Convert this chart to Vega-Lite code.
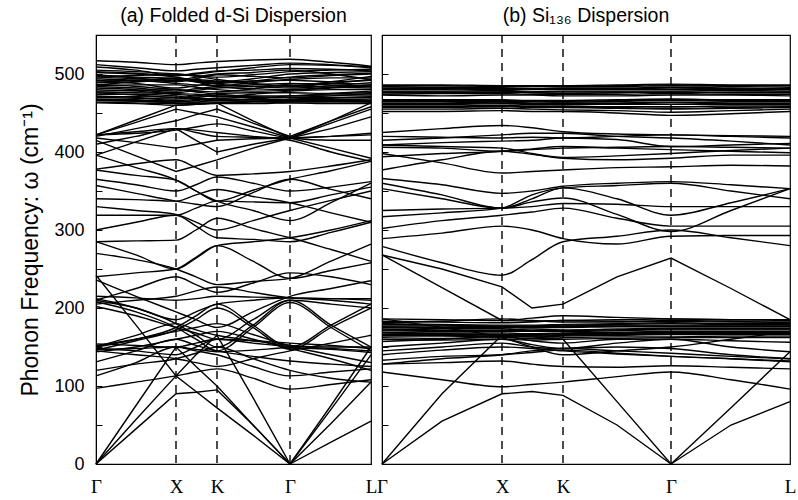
{
"$schema": "https://vega.github.io/schema/vega-lite/v6.json",
"background": "white",
"padding": {"left": 19, "top": 5, "right": 2, "bottom": 2},
"bounds": "flush",
"spacing": 11,
"config": {"view": {"stroke": "black", "strokeWidth": 1.2}, "font": "Liberation Sans", "title": {"fontSize": 19.5, "fontWeight": "normal", "color": "black", "font": "Liberation Sans", "offset": 8}},
"datasets": {
"a": [
{"b":1,"x":0,"y":517},{"b":1,"x":40,"y":515},{"b":1,"x":80,"y":512},{"b":1,"x":100,"y":514},{"b":1,"x":121,"y":516},{"b":1,"x":157,"y":518},{"b":1,"x":194,"y":519},{"b":1,"x":235,"y":515},{"b":1,"x":275,"y":510},
{"b":2,"x":0,"y":509},{"b":2,"x":40,"y":505},{"b":2,"x":80,"y":498},{"b":2,"x":100,"y":500},{"b":2,"x":121,"y":503},{"b":2,"x":157,"y":508},{"b":2,"x":194,"y":512},{"b":2,"x":235,"y":511},{"b":2,"x":275,"y":508},
{"b":3,"x":0,"y":505},{"b":3,"x":40,"y":503},{"b":3,"x":80,"y":500},{"b":3,"x":100,"y":498},{"b":3,"x":121,"y":496},{"b":3,"x":157,"y":499},{"b":3,"x":194,"y":503},{"b":3,"x":235,"y":505},{"b":3,"x":275,"y":506},
{"b":4,"x":0,"y":502},{"b":4,"x":40,"y":500},{"b":4,"x":80,"y":496},{"b":4,"x":100,"y":492},{"b":4,"x":121,"y":490},{"b":4,"x":157,"y":494},{"b":4,"x":194,"y":500},{"b":4,"x":235,"y":502},{"b":4,"x":275,"y":503},
{"b":5,"x":0,"y":499},{"b":5,"x":40,"y":495},{"b":5,"x":80,"y":490},{"b":5,"x":100,"y":494},{"b":5,"x":121,"y":499},{"b":5,"x":157,"y":497},{"b":5,"x":194,"y":495},{"b":5,"x":235,"y":498},{"b":5,"x":275,"y":500},
{"b":6,"x":0,"y":497},{"b":6,"x":40,"y":498},{"b":6,"x":80,"y":500},{"b":6,"x":100,"y":497},{"b":6,"x":121,"y":493},{"b":6,"x":157,"y":488},{"b":6,"x":194,"y":485},{"b":6,"x":235,"y":490},{"b":6,"x":275,"y":497},
{"b":7,"x":0,"y":494},{"b":7,"x":40,"y":492},{"b":7,"x":80,"y":488},{"b":7,"x":100,"y":486},{"b":7,"x":121,"y":485},{"b":7,"x":157,"y":489},{"b":7,"x":194,"y":493},{"b":7,"x":235,"y":495},{"b":7,"x":275,"y":495},
{"b":8,"x":0,"y":492},{"b":8,"x":40,"y":488},{"b":8,"x":80,"y":482},{"b":8,"x":100,"y":485},{"b":8,"x":121,"y":489},{"b":8,"x":157,"y":491},{"b":8,"x":194,"y":492},{"b":8,"x":235,"y":490},{"b":8,"x":275,"y":492},
{"b":9,"x":0,"y":489},{"b":9,"x":40,"y":490},{"b":9,"x":80,"y":492},{"b":9,"x":100,"y":490},{"b":9,"x":121,"y":487},{"b":9,"x":157,"y":484},{"b":9,"x":194,"y":482},{"b":9,"x":235,"y":485},{"b":9,"x":275,"y":489},
{"b":10,"x":0,"y":487},{"b":10,"x":40,"y":484},{"b":10,"x":80,"y":480},{"b":10,"x":100,"y":478},{"b":10,"x":121,"y":477},{"b":10,"x":157,"y":481},{"b":10,"x":194,"y":487},{"b":10,"x":235,"y":488},{"b":10,"x":275,"y":487},
{"b":11,"x":0,"y":485},{"b":11,"x":40,"y":486},{"b":11,"x":80,"y":486},{"b":11,"x":100,"y":483},{"b":11,"x":121,"y":480},{"b":11,"x":157,"y":478},{"b":11,"x":194,"y":479},{"b":11,"x":235,"y":482},{"b":11,"x":275,"y":485},
{"b":12,"x":0,"y":482},{"b":12,"x":40,"y":480},{"b":12,"x":80,"y":476},{"b":12,"x":100,"y":479},{"b":12,"x":121,"y":482},{"b":12,"x":157,"y":484},{"b":12,"x":194,"y":485},{"b":12,"x":235,"y":483},{"b":12,"x":275,"y":482},
{"b":13,"x":0,"y":480},{"b":13,"x":40,"y":478},{"b":13,"x":80,"y":474},{"b":13,"x":100,"y":472},{"b":13,"x":121,"y":471},{"b":13,"x":157,"y":474},{"b":13,"x":194,"y":478},{"b":13,"x":235,"y":480},{"b":13,"x":275,"y":480},
{"b":14,"x":0,"y":478},{"b":14,"x":40,"y":479},{"b":14,"x":80,"y":480},{"b":14,"x":100,"y":477},{"b":14,"x":121,"y":474},{"b":14,"x":157,"y":472},{"b":14,"x":194,"y":472},{"b":14,"x":235,"y":475},{"b":14,"x":275,"y":478},
{"b":15,"x":0,"y":476},{"b":15,"x":40,"y":473},{"b":15,"x":80,"y":470},{"b":15,"x":100,"y":472},{"b":15,"x":121,"y":475},{"b":15,"x":157,"y":476},{"b":15,"x":194,"y":476},{"b":15,"x":235,"y":475},{"b":15,"x":275,"y":476},
{"b":16,"x":0,"y":474},{"b":16,"x":40,"y":474},{"b":16,"x":80,"y":472},{"b":16,"x":100,"y":468},{"b":16,"x":121,"y":466},{"b":16,"x":157,"y":468},{"b":16,"x":194,"y":472},{"b":16,"x":235,"y":473},{"b":16,"x":275,"y":473},
{"b":17,"x":0,"y":472},{"b":17,"x":40,"y":470},{"b":17,"x":80,"y":466},{"b":17,"x":100,"y":467},{"b":17,"x":121,"y":469},{"b":17,"x":157,"y":470},{"b":17,"x":194,"y":470},{"b":17,"x":235,"y":470},{"b":17,"x":275,"y":471},
{"b":18,"x":0,"y":470},{"b":18,"x":40,"y":469},{"b":18,"x":80,"y":468},{"b":18,"x":100,"y":470},{"b":18,"x":121,"y":472},{"b":18,"x":157,"y":469},{"b":18,"x":194,"y":467},{"b":18,"x":235,"y":467},{"b":18,"x":275,"y":468},
{"b":19,"x":0,"y":468},{"b":19,"x":40,"y":467},{"b":19,"x":80,"y":465},{"b":19,"x":100,"y":464},{"b":19,"x":121,"y":464},{"b":19,"x":157,"y":465},{"b":19,"x":194,"y":466},{"b":19,"x":235,"y":466},{"b":19,"x":275,"y":466},
{"b":20,"x":0,"y":466},{"b":20,"x":40,"y":465},{"b":20,"x":80,"y":463},{"b":20,"x":100,"y":462},{"b":20,"x":121,"y":463},{"b":20,"x":157,"y":464},{"b":20,"x":194,"y":465},{"b":20,"x":235,"y":465},{"b":20,"x":275,"y":464},
{"b":21,"x":0,"y":464},{"b":21,"x":40,"y":463},{"b":21,"x":80,"y":462},{"b":21,"x":100,"y":464},{"b":21,"x":121,"y":466},{"b":21,"x":157,"y":465},{"b":21,"x":194,"y":463},{"b":21,"x":235,"y":463},{"b":21,"x":275,"y":463},
{"b":22,"x":0,"y":463},{"b":22,"x":40,"y":462},{"b":22,"x":80,"y":460},{"b":22,"x":100,"y":461},{"b":22,"x":121,"y":462},{"b":22,"x":157,"y":462},{"b":22,"x":194,"y":463},{"b":22,"x":235,"y":462},{"b":22,"x":275,"y":462},
{"b":23,"x":0,"y":496},{"b":23,"x":40,"y":494},{"b":23,"x":80,"y":492},{"b":23,"x":100,"y":496},{"b":23,"x":121,"y":500},{"b":23,"x":157,"y":502},{"b":23,"x":194,"y":505},{"b":23,"x":235,"y":500},{"b":23,"x":275,"y":493},
{"b":24,"x":0,"y":486},{"b":24,"x":40,"y":490},{"b":24,"x":80,"y":495},{"b":24,"x":100,"y":490},{"b":24,"x":121,"y":484},{"b":24,"x":157,"y":481},{"b":24,"x":194,"y":480},{"b":24,"x":235,"y":483},{"b":24,"x":275,"y":486},
{"b":25,"x":0,"y":422},{"b":25,"x":40,"y":441},{"b":25,"x":80,"y":460},{"b":25,"x":100,"y":461},{"b":25,"x":121,"y":463},{"b":25,"x":157,"y":440},{"b":25,"x":194,"y":418},{"b":25,"x":235,"y":440},{"b":25,"x":275,"y":463},
{"b":26,"x":0,"y":422},{"b":26,"x":40,"y":438},{"b":26,"x":80,"y":455},{"b":26,"x":100,"y":450},{"b":26,"x":121,"y":445},{"b":26,"x":157,"y":432},{"b":26,"x":194,"y":418},{"b":26,"x":235,"y":437},{"b":26,"x":275,"y":455},
{"b":27,"x":0,"y":422},{"b":27,"x":40,"y":426},{"b":27,"x":80,"y":430},{"b":27,"x":100,"y":425},{"b":27,"x":121,"y":420},{"b":27,"x":157,"y":419},{"b":27,"x":194,"y":418},{"b":27,"x":235,"y":420},{"b":27,"x":275,"y":422},
{"b":28,"x":0,"y":418},{"b":28,"x":40,"y":412},{"b":28,"x":80,"y":405},{"b":28,"x":100,"y":410},{"b":28,"x":121,"y":415},{"b":28,"x":157,"y":417},{"b":28,"x":194,"y":418},{"b":28,"x":235,"y":405},{"b":28,"x":275,"y":392},
{"b":29,"x":0,"y":415},{"b":29,"x":40,"y":395},{"b":29,"x":80,"y":375},{"b":29,"x":100,"y":382},{"b":29,"x":121,"y":390},{"b":29,"x":157,"y":405},{"b":29,"x":194,"y":418},{"b":29,"x":235,"y":420},{"b":29,"x":275,"y":424},
{"b":30,"x":0,"y":422},{"b":30,"x":40,"y":424},{"b":30,"x":80,"y":428},{"b":30,"x":100,"y":432},{"b":30,"x":121,"y":436},{"b":30,"x":157,"y":427},{"b":30,"x":194,"y":418},{"b":30,"x":235,"y":415},{"b":30,"x":275,"y":415},
{"b":31,"x":0,"y":410},{"b":31,"x":40,"y":420},{"b":31,"x":80,"y":430},{"b":31,"x":100,"y":428},{"b":31,"x":121,"y":425},{"b":31,"x":157,"y":420},{"b":31,"x":194,"y":415},{"b":31,"x":235,"y":400},{"b":31,"x":275,"y":388},
{"b":32,"x":0,"y":396},{"b":32,"x":40,"y":413},{"b":32,"x":80,"y":430},{"b":32,"x":100,"y":415},{"b":32,"x":121,"y":400},{"b":32,"x":157,"y":410},{"b":32,"x":194,"y":418},{"b":32,"x":235,"y":430},{"b":32,"x":275,"y":445},
{"b":33,"x":0,"y":420},{"b":33,"x":40,"y":430},{"b":33,"x":80,"y":440},{"b":33,"x":100,"y":448},{"b":33,"x":121,"y":455},{"b":33,"x":157,"y":437},{"b":33,"x":194,"y":420},{"b":33,"x":235,"y":440},{"b":33,"x":275,"y":458},
{"b":34,"x":0,"y":396},{"b":34,"x":40,"y":380},{"b":34,"x":80,"y":364},{"b":34,"x":100,"y":350},{"b":34,"x":121,"y":337},{"b":34,"x":157,"y":351},{"b":34,"x":194,"y":365},{"b":34,"x":235,"y":376},{"b":34,"x":275,"y":388},
{"b":35,"x":0,"y":377},{"b":35,"x":40,"y":370},{"b":35,"x":80,"y":364},{"b":35,"x":100,"y":350},{"b":35,"x":121,"y":337},{"b":35,"x":157,"y":325},{"b":35,"x":194,"y":312},{"b":35,"x":235,"y":335},{"b":35,"x":275,"y":360},
{"b":36,"x":0,"y":357},{"b":36,"x":40,"y":347},{"b":36,"x":80,"y":337},{"b":36,"x":100,"y":333},{"b":36,"x":121,"y":330},{"b":36,"x":157,"y":348},{"b":36,"x":194,"y":365},{"b":36,"x":235,"y":352},{"b":36,"x":275,"y":340},
{"b":37,"x":0,"y":340},{"b":37,"x":40,"y":339},{"b":37,"x":80,"y":337},{"b":37,"x":100,"y":345},{"b":37,"x":121,"y":352},{"b":37,"x":157,"y":343},{"b":37,"x":194,"y":335},{"b":37,"x":235,"y":322},{"b":37,"x":275,"y":310},
{"b":38,"x":0,"y":319},{"b":38,"x":40,"y":319},{"b":38,"x":80,"y":319},{"b":38,"x":100,"y":328},{"b":38,"x":121,"y":337},{"b":38,"x":157,"y":336},{"b":38,"x":194,"y":335},{"b":38,"x":235,"y":345},{"b":38,"x":275,"y":355},
{"b":39,"x":0,"y":300},{"b":39,"x":40,"y":310},{"b":39,"x":80,"y":319},{"b":39,"x":100,"y":305},{"b":39,"x":121,"y":290},{"b":39,"x":157,"y":288},{"b":39,"x":194,"y":285},{"b":39,"x":235,"y":297},{"b":39,"x":275,"y":310},
{"b":40,"x":0,"y":285},{"b":40,"x":40,"y":286},{"b":40,"x":80,"y":287},{"b":40,"x":100,"y":300},{"b":40,"x":121,"y":315},{"b":40,"x":157,"y":302},{"b":40,"x":194,"y":290},{"b":40,"x":235,"y":275},{"b":40,"x":275,"y":260},
{"b":41,"x":0,"y":285},{"b":41,"x":40,"y":268},{"b":41,"x":80,"y":250},{"b":41,"x":100,"y":264},{"b":41,"x":121,"y":280},{"b":41,"x":157,"y":285},{"b":41,"x":194,"y":290},{"b":41,"x":235,"y":300},{"b":41,"x":275,"y":312},
{"b":42,"x":0,"y":240},{"b":42,"x":40,"y":245},{"b":42,"x":80,"y":250},{"b":42,"x":100,"y":265},{"b":42,"x":121,"y":280},{"b":42,"x":157,"y":260},{"b":42,"x":194,"y":238},{"b":42,"x":235,"y":248},{"b":42,"x":275,"y":258},
{"b":43,"x":0,"y":270},{"b":43,"x":40,"y":262},{"b":43,"x":80,"y":250},{"b":43,"x":100,"y":240},{"b":43,"x":121,"y":230},{"b":43,"x":157,"y":234},{"b":43,"x":194,"y":238},{"b":43,"x":235,"y":260},{"b":43,"x":275,"y":282},
{"b":44,"x":0,"y":330},{"b":44,"x":40,"y":325},{"b":44,"x":80,"y":320},{"b":44,"x":100,"y":310},{"b":44,"x":121,"y":300},{"b":44,"x":157,"y":312},{"b":44,"x":194,"y":325},{"b":44,"x":235,"y":338},{"b":44,"x":275,"y":350},
{"b":45,"x":0,"y":365},{"b":45,"x":40,"y":358},{"b":45,"x":80,"y":350},{"b":45,"x":100,"y":358},{"b":45,"x":121,"y":368},{"b":45,"x":157,"y":360},{"b":45,"x":194,"y":350},{"b":45,"x":235,"y":355},{"b":45,"x":275,"y":362},
{"b":46,"x":0,"y":378},{"b":46,"x":40,"y":385},{"b":46,"x":80,"y":390},{"b":46,"x":100,"y":380},{"b":46,"x":121,"y":370},{"b":46,"x":157,"y":372},{"b":46,"x":194,"y":375},{"b":46,"x":235,"y":382},{"b":46,"x":275,"y":390},
{"b":47,"x":0,"y":212},{"b":47,"x":40,"y":200},{"b":47,"x":80,"y":180},{"b":47,"x":100,"y":165},{"b":47,"x":121,"y":150},{"b":47,"x":157,"y":178},{"b":47,"x":194,"y":210},{"b":47,"x":235,"y":178},{"b":47,"x":275,"y":150},
{"b":48,"x":0,"y":208},{"b":48,"x":40,"y":195},{"b":48,"x":80,"y":175},{"b":48,"x":100,"y":160},{"b":48,"x":121,"y":145},{"b":48,"x":157,"y":175},{"b":48,"x":194,"y":207},{"b":48,"x":235,"y":175},{"b":48,"x":275,"y":145},
{"b":49,"x":0,"y":150},{"b":49,"x":40,"y":160},{"b":49,"x":80,"y":175},{"b":49,"x":100,"y":190},{"b":49,"x":121,"y":205},{"b":49,"x":157,"y":178},{"b":49,"x":194,"y":150},{"b":49,"x":235,"y":178},{"b":49,"x":275,"y":205},
{"b":50,"x":0,"y":146},{"b":50,"x":40,"y":158},{"b":50,"x":80,"y":172},{"b":50,"x":100,"y":185},{"b":50,"x":121,"y":200},{"b":50,"x":157,"y":175},{"b":50,"x":194,"y":147},{"b":50,"x":235,"y":175},{"b":50,"x":275,"y":200},
{"b":51,"x":0,"y":205},{"b":51,"x":40,"y":210},{"b":51,"x":80,"y":215},{"b":51,"x":100,"y":222},{"b":51,"x":121,"y":227},{"b":51,"x":157,"y":220},{"b":51,"x":194,"y":213},{"b":51,"x":235,"y":210},{"b":51,"x":275,"y":205},
{"b":52,"x":0,"y":215},{"b":52,"x":40,"y":213},{"b":52,"x":80,"y":210},{"b":52,"x":100,"y":212},{"b":52,"x":121,"y":215},{"b":52,"x":157,"y":214},{"b":52,"x":194,"y":213},{"b":52,"x":235,"y":212},{"b":52,"x":275,"y":212},
{"b":53,"x":0,"y":210},{"b":53,"x":40,"y":200},{"b":53,"x":80,"y":185},{"b":53,"x":100,"y":195},{"b":53,"x":121,"y":205},{"b":53,"x":157,"y":210},{"b":53,"x":194,"y":213},{"b":53,"x":235,"y":212},{"b":53,"x":275,"y":210},
{"b":54,"x":0,"y":202},{"b":54,"x":40,"y":190},{"b":54,"x":80,"y":175},{"b":54,"x":100,"y":168},{"b":54,"x":121,"y":160},{"b":54,"x":157,"y":185},{"b":54,"x":194,"y":210},{"b":54,"x":235,"y":205},{"b":54,"x":275,"y":200},
{"b":55,"x":0,"y":152},{"b":55,"x":40,"y":160},{"b":55,"x":80,"y":170},{"b":55,"x":100,"y":175},{"b":55,"x":121,"y":180},{"b":55,"x":157,"y":166},{"b":55,"x":194,"y":152},{"b":55,"x":235,"y":148},{"b":55,"x":275,"y":145},
{"b":56,"x":0,"y":150},{"b":56,"x":40,"y":165},{"b":56,"x":80,"y":180},{"b":56,"x":100,"y":172},{"b":56,"x":121,"y":165},{"b":56,"x":157,"y":158},{"b":56,"x":194,"y":152},{"b":56,"x":235,"y":150},{"b":56,"x":275,"y":150},
{"b":57,"x":0,"y":148},{"b":57,"x":40,"y":145},{"b":57,"x":80,"y":140},{"b":57,"x":100,"y":150},{"b":57,"x":121,"y":160},{"b":57,"x":157,"y":155},{"b":57,"x":194,"y":150},{"b":57,"x":235,"y":140},{"b":57,"x":275,"y":130},
{"b":58,"x":0,"y":145},{"b":58,"x":40,"y":140},{"b":58,"x":80,"y":135},{"b":58,"x":100,"y":130},{"b":58,"x":121,"y":125},{"b":58,"x":157,"y":135},{"b":58,"x":194,"y":145},{"b":58,"x":235,"y":155},{"b":58,"x":275,"y":165},
{"b":59,"x":0,"y":144},{"b":59,"x":40,"y":150},{"b":59,"x":80,"y":160},{"b":59,"x":100,"y":165},{"b":59,"x":121,"y":170},{"b":59,"x":157,"y":160},{"b":59,"x":194,"y":148},{"b":59,"x":235,"y":135},{"b":59,"x":275,"y":120},
{"b":60,"x":0,"y":131},{"b":60,"x":40,"y":145},{"b":60,"x":80,"y":160},{"b":60,"x":100,"y":152},{"b":60,"x":121,"y":145},{"b":60,"x":157,"y":138},{"b":60,"x":194,"y":132},{"b":60,"x":235,"y":128},{"b":60,"x":275,"y":125},
{"b":61,"x":0,"y":113},{"b":61,"x":40,"y":130},{"b":61,"x":80,"y":150},{"b":61,"x":100,"y":145},{"b":61,"x":121,"y":140},{"b":61,"x":157,"y":125},{"b":61,"x":194,"y":113},{"b":61,"x":235,"y":118},{"b":61,"x":275,"y":122},
{"b":62,"x":0,"y":97},{"b":62,"x":40,"y":105},{"b":62,"x":80,"y":113},{"b":62,"x":100,"y":118},{"b":62,"x":121,"y":122},{"b":62,"x":157,"y":110},{"b":62,"x":194,"y":96},{"b":62,"x":235,"y":102},{"b":62,"x":275,"y":108},
{"b":63,"x":0,"y":120},{"b":63,"x":40,"y":128},{"b":63,"x":80,"y":135},{"b":63,"x":100,"y":142},{"b":63,"x":121,"y":150},{"b":63,"x":157,"y":135},{"b":63,"x":194,"y":120},{"b":63,"x":235,"y":110},{"b":63,"x":275,"y":105},
{"b":64,"x":0,"y":0},{"b":64,"x":40,"y":45},{"b":64,"x":80,"y":90},{"b":64,"x":100,"y":92},{"b":64,"x":121,"y":95},{"b":64,"x":157,"y":50},{"b":64,"x":194,"y":0},{"b":64,"x":235,"y":28},{"b":64,"x":275,"y":55},
{"b":65,"x":0,"y":0},{"b":65,"x":40,"y":57},{"b":65,"x":80,"y":113},{"b":65,"x":100,"y":93},{"b":65,"x":121,"y":72},{"b":65,"x":157,"y":37},{"b":65,"x":194,"y":0},{"b":65,"x":235,"y":52},{"b":65,"x":275,"y":105},
{"b":66,"x":0,"y":0},{"b":66,"x":40,"y":75},{"b":66,"x":80,"y":150},{"b":66,"x":100,"y":125},{"b":66,"x":121,"y":100},{"b":66,"x":157,"y":50},{"b":66,"x":194,"y":0},{"b":66,"x":235,"y":75},{"b":66,"x":275,"y":150},
{"b":67,"x":0,"y":242},{"b":67,"x":40,"y":178},{"b":67,"x":80,"y":113},{"b":67,"x":100,"y":140},{"b":67,"x":121,"y":165},{"b":67,"x":157,"y":85},{"b":67,"x":194,"y":0},{"b":67,"x":235,"y":70},{"b":67,"x":275,"y":140},
{"b":68,"x":0,"y":236},{"b":68,"x":40,"y":215},{"b":68,"x":80,"y":195},{"b":68,"x":100,"y":185},{"b":68,"x":121,"y":175},{"b":68,"x":157,"y":195},{"b":68,"x":194,"y":215},{"b":68,"x":235,"y":225},{"b":68,"x":275,"y":235},
{"b":69,"x":0,"y":210},{"b":69,"x":40,"y":225},{"b":69,"x":80,"y":240},{"b":69,"x":100,"y":230},{"b":69,"x":121,"y":220},{"b":69,"x":157,"y":232},{"b":69,"x":194,"y":245},{"b":69,"x":235,"y":240},{"b":69,"x":275,"y":230},
{"b":70,"x":0,"y":503},{"b":70,"x":40,"y":501},{"b":70,"x":80,"y":498},{"b":70,"x":100,"y":501},{"b":70,"x":121,"y":504},{"b":70,"x":157,"y":505},{"b":70,"x":194,"y":507},{"b":70,"x":235,"y":506},{"b":70,"x":275,"y":504},
{"b":71,"x":0,"y":498},{"b":71,"x":40,"y":496},{"b":71,"x":80,"y":494},{"b":71,"x":100,"y":491},{"b":71,"x":121,"y":488},{"b":71,"x":157,"y":491},{"b":71,"x":194,"y":496},{"b":71,"x":235,"y":499},{"b":71,"x":275,"y":501},
{"b":72,"x":0,"y":491},{"b":72,"x":40,"y":492},{"b":72,"x":80,"y":494},{"b":72,"x":100,"y":493},{"b":72,"x":121,"y":491},{"b":72,"x":157,"y":487},{"b":72,"x":194,"y":484},{"b":72,"x":235,"y":488},{"b":72,"x":275,"y":493},
{"b":73,"x":0,"y":484},{"b":73,"x":40,"y":482},{"b":73,"x":80,"y":478},{"b":73,"x":100,"y":481},{"b":73,"x":121,"y":484},{"b":73,"x":157,"y":486},{"b":73,"x":194,"y":488},{"b":73,"x":235,"y":486},{"b":73,"x":275,"y":484},
{"b":74,"x":0,"y":477},{"b":74,"x":40,"y":476},{"b":74,"x":80,"y":475},{"b":74,"x":100,"y":474},{"b":74,"x":121,"y":472},{"b":74,"x":157,"y":471},{"b":74,"x":194,"y":470},{"b":74,"x":235,"y":472},{"b":74,"x":275,"y":475},
{"b":75,"x":0,"y":471},{"b":75,"x":40,"y":471},{"b":75,"x":80,"y":470},{"b":75,"x":100,"y":469},{"b":75,"x":121,"y":468},{"b":75,"x":157,"y":467},{"b":75,"x":194,"y":468},{"b":75,"x":235,"y":469},{"b":75,"x":275,"y":470},
{"b":76,"x":0,"y":467},{"b":76,"x":40,"y":466},{"b":76,"x":80,"y":464},{"b":76,"x":100,"y":466},{"b":76,"x":121,"y":468},{"b":76,"x":157,"y":467},{"b":76,"x":194,"y":465},{"b":76,"x":235,"y":465},{"b":76,"x":275,"y":465},
{"b":77,"x":0,"y":512},{"b":77,"x":40,"y":508},{"b":77,"x":80,"y":504},{"b":77,"x":100,"y":506},{"b":77,"x":121,"y":508},{"b":77,"x":157,"y":511},{"b":77,"x":194,"y":514},{"b":77,"x":235,"y":512},{"b":77,"x":275,"y":509},
{"b":78,"x":0,"y":154},{"b":78,"x":40,"y":152},{"b":78,"x":80,"y":150},{"b":78,"x":100,"y":155},{"b":78,"x":121,"y":160},{"b":78,"x":157,"y":158},{"b":78,"x":194,"y":155},{"b":78,"x":235,"y":152},{"b":78,"x":275,"y":148},
{"b":79,"x":0,"y":147},{"b":79,"x":40,"y":148},{"b":79,"x":80,"y":150},{"b":79,"x":100,"y":147},{"b":79,"x":121,"y":144},{"b":79,"x":157,"y":146},{"b":79,"x":194,"y":149},{"b":79,"x":235,"y":147},{"b":79,"x":275,"y":143}
],
"b": [
{"b":1,"x":0,"y":486},{"b":1,"x":60,"y":486},{"b":1,"x":120,"y":485},{"b":1,"x":150,"y":485},{"b":1,"x":181,"y":485},{"b":1,"x":235,"y":486},{"b":1,"x":289,"y":487},{"b":1,"x":349,"y":486},{"b":1,"x":408,"y":486},
{"b":2,"x":0,"y":484},{"b":2,"x":60,"y":483},{"b":2,"x":120,"y":483},{"b":2,"x":150,"y":484},{"b":2,"x":181,"y":484},{"b":2,"x":235,"y":484},{"b":2,"x":289,"y":485},{"b":2,"x":349,"y":484},{"b":2,"x":408,"y":483},
{"b":3,"x":0,"y":482},{"b":3,"x":60,"y":482},{"b":3,"x":120,"y":481},{"b":3,"x":150,"y":481},{"b":3,"x":181,"y":482},{"b":3,"x":235,"y":482},{"b":3,"x":289,"y":483},{"b":3,"x":349,"y":482},{"b":3,"x":408,"y":481},
{"b":4,"x":0,"y":480},{"b":4,"x":60,"y":480},{"b":4,"x":120,"y":479},{"b":4,"x":150,"y":480},{"b":4,"x":181,"y":480},{"b":4,"x":235,"y":480},{"b":4,"x":289,"y":480},{"b":4,"x":349,"y":480},{"b":4,"x":408,"y":480},
{"b":5,"x":0,"y":478},{"b":5,"x":60,"y":478},{"b":5,"x":120,"y":478},{"b":5,"x":150,"y":477},{"b":5,"x":181,"y":478},{"b":5,"x":235,"y":478},{"b":5,"x":289,"y":478},{"b":5,"x":349,"y":479},{"b":5,"x":408,"y":478},
{"b":6,"x":0,"y":476},{"b":6,"x":60,"y":476},{"b":6,"x":120,"y":477},{"b":6,"x":150,"y":476},{"b":6,"x":181,"y":475},{"b":6,"x":235,"y":476},{"b":6,"x":289,"y":477},{"b":6,"x":349,"y":476},{"b":6,"x":408,"y":476},
{"b":7,"x":0,"y":474},{"b":7,"x":60,"y":475},{"b":7,"x":120,"y":475},{"b":7,"x":150,"y":474},{"b":7,"x":181,"y":474},{"b":7,"x":235,"y":474},{"b":7,"x":289,"y":475},{"b":7,"x":349,"y":474},{"b":7,"x":408,"y":474},
{"b":8,"x":0,"y":473},{"b":8,"x":60,"y":472},{"b":8,"x":120,"y":473},{"b":8,"x":150,"y":473},{"b":8,"x":181,"y":472},{"b":8,"x":235,"y":472},{"b":8,"x":289,"y":473},{"b":8,"x":349,"y":473},{"b":8,"x":408,"y":472},
{"b":9,"x":0,"y":467},{"b":9,"x":60,"y":467},{"b":9,"x":120,"y":467},{"b":9,"x":150,"y":466},{"b":9,"x":181,"y":466},{"b":9,"x":235,"y":467},{"b":9,"x":289,"y":468},{"b":9,"x":349,"y":467},{"b":9,"x":408,"y":467},
{"b":10,"x":0,"y":465},{"b":10,"x":60,"y":465},{"b":10,"x":120,"y":465},{"b":10,"x":150,"y":465},{"b":10,"x":181,"y":464},{"b":10,"x":235,"y":465},{"b":10,"x":289,"y":466},{"b":10,"x":349,"y":465},{"b":10,"x":408,"y":465},
{"b":11,"x":0,"y":463},{"b":11,"x":60,"y":463},{"b":11,"x":120,"y":464},{"b":11,"x":150,"y":463},{"b":11,"x":181,"y":463},{"b":11,"x":235,"y":463},{"b":11,"x":289,"y":464},{"b":11,"x":349,"y":463},{"b":11,"x":408,"y":463},
{"b":12,"x":0,"y":461},{"b":12,"x":60,"y":461},{"b":12,"x":120,"y":462},{"b":12,"x":150,"y":461},{"b":12,"x":181,"y":461},{"b":12,"x":235,"y":461},{"b":12,"x":289,"y":461},{"b":12,"x":349,"y":461},{"b":12,"x":408,"y":461},
{"b":13,"x":0,"y":459},{"b":13,"x":60,"y":459},{"b":13,"x":120,"y":460},{"b":13,"x":150,"y":459},{"b":13,"x":181,"y":459},{"b":13,"x":235,"y":458},{"b":13,"x":289,"y":458},{"b":13,"x":349,"y":459},{"b":13,"x":408,"y":459},
{"b":14,"x":0,"y":457},{"b":14,"x":60,"y":457},{"b":14,"x":120,"y":458},{"b":14,"x":150,"y":457},{"b":14,"x":181,"y":457},{"b":14,"x":235,"y":456},{"b":14,"x":289,"y":455},{"b":14,"x":349,"y":456},{"b":14,"x":408,"y":457},
{"b":15,"x":0,"y":455},{"b":15,"x":60,"y":455},{"b":15,"x":120,"y":456},{"b":15,"x":150,"y":455},{"b":15,"x":181,"y":454},{"b":15,"x":235,"y":453},{"b":15,"x":289,"y":451},{"b":15,"x":349,"y":453},{"b":15,"x":408,"y":455},
{"b":16,"x":0,"y":452},{"b":16,"x":60,"y":452},{"b":16,"x":120,"y":453},{"b":16,"x":150,"y":452},{"b":16,"x":181,"y":452},{"b":16,"x":235,"y":450},{"b":16,"x":289,"y":447},{"b":16,"x":349,"y":449},{"b":16,"x":408,"y":452},
{"b":17,"x":0,"y":425},{"b":17,"x":60,"y":430},{"b":17,"x":120,"y":434},{"b":17,"x":150,"y":431},{"b":17,"x":181,"y":426},{"b":17,"x":235,"y":423},{"b":17,"x":289,"y":422},{"b":17,"x":349,"y":421},{"b":17,"x":408,"y":420},
{"b":18,"x":0,"y":420},{"b":18,"x":60,"y":419},{"b":18,"x":120,"y":418},{"b":18,"x":150,"y":419},{"b":18,"x":181,"y":418},{"b":18,"x":235,"y":420},{"b":18,"x":289,"y":422},{"b":18,"x":349,"y":420},{"b":18,"x":408,"y":418},
{"b":19,"x":0,"y":409},{"b":19,"x":60,"y":412},{"b":19,"x":120,"y":414},{"b":19,"x":150,"y":415},{"b":19,"x":181,"y":418},{"b":19,"x":235,"y":416},{"b":19,"x":289,"y":407},{"b":19,"x":349,"y":409},{"b":19,"x":408,"y":411},
{"b":20,"x":0,"y":406},{"b":20,"x":60,"y":405},{"b":20,"x":120,"y":401},{"b":20,"x":150,"y":403},{"b":20,"x":181,"y":405},{"b":20,"x":235,"y":406},{"b":20,"x":289,"y":407},{"b":20,"x":349,"y":406},{"b":20,"x":408,"y":405},
{"b":21,"x":0,"y":398},{"b":21,"x":60,"y":386},{"b":21,"x":120,"y":373},{"b":21,"x":150,"y":375},{"b":21,"x":181,"y":377},{"b":21,"x":235,"y":380},{"b":21,"x":289,"y":381},{"b":21,"x":349,"y":383},{"b":21,"x":408,"y":382},
{"b":22,"x":0,"y":377},{"b":22,"x":60,"y":390},{"b":22,"x":120,"y":401},{"b":22,"x":150,"y":397},{"b":22,"x":181,"y":392},{"b":22,"x":235,"y":390},{"b":22,"x":289,"y":392},{"b":22,"x":349,"y":396},{"b":22,"x":408,"y":396},
{"b":23,"x":0,"y":366},{"b":23,"x":60,"y":358},{"b":23,"x":120,"y":347},{"b":23,"x":150,"y":350},{"b":23,"x":181,"y":356},{"b":23,"x":235,"y":360},{"b":23,"x":289,"y":362},{"b":23,"x":349,"y":358},{"b":23,"x":408,"y":353},
{"b":24,"x":0,"y":360},{"b":24,"x":60,"y":345},{"b":24,"x":120,"y":328},{"b":24,"x":150,"y":340},{"b":24,"x":181,"y":354},{"b":24,"x":235,"y":340},{"b":24,"x":289,"y":319},{"b":24,"x":349,"y":335},{"b":24,"x":408,"y":353},
{"b":25,"x":0,"y":353},{"b":25,"x":60,"y":340},{"b":25,"x":120,"y":328},{"b":25,"x":150,"y":336},{"b":25,"x":181,"y":341},{"b":25,"x":235,"y":320},{"b":25,"x":289,"y":298},{"b":25,"x":349,"y":325},{"b":25,"x":408,"y":353},
{"b":26,"x":0,"y":325},{"b":26,"x":60,"y":327},{"b":26,"x":120,"y":328},{"b":26,"x":150,"y":330},{"b":26,"x":181,"y":334},{"b":26,"x":235,"y":333},{"b":26,"x":289,"y":330},{"b":26,"x":349,"y":330},{"b":26,"x":408,"y":330},
{"b":27,"x":0,"y":317},{"b":27,"x":60,"y":322},{"b":27,"x":120,"y":328},{"b":27,"x":150,"y":345},{"b":27,"x":181,"y":354},{"b":27,"x":235,"y":357},{"b":27,"x":289,"y":360},{"b":27,"x":349,"y":350},{"b":27,"x":408,"y":340},
{"b":28,"x":0,"y":302},{"b":28,"x":60,"y":312},{"b":28,"x":120,"y":319},{"b":28,"x":150,"y":323},{"b":28,"x":181,"y":328},{"b":28,"x":235,"y":315},{"b":28,"x":289,"y":305},{"b":28,"x":349,"y":305},{"b":28,"x":408,"y":305},
{"b":29,"x":0,"y":289},{"b":29,"x":60,"y":296},{"b":29,"x":120,"y":305},{"b":29,"x":150,"y":300},{"b":29,"x":181,"y":289},{"b":29,"x":235,"y":282},{"b":29,"x":289,"y":292},{"b":29,"x":349,"y":293},{"b":29,"x":408,"y":293},
{"b":30,"x":0,"y":279},{"b":30,"x":60,"y":258},{"b":30,"x":120,"y":242},{"b":30,"x":150,"y":262},{"b":30,"x":181,"y":285},{"b":30,"x":235,"y":292},{"b":30,"x":289,"y":300},{"b":30,"x":349,"y":290},{"b":30,"x":408,"y":280},
{"b":31,"x":0,"y":268},{"b":31,"x":60,"y":250},{"b":31,"x":120,"y":227},{"b":31,"x":150,"y":200},{"b":31,"x":181,"y":205},{"b":31,"x":235,"y":240},{"b":31,"x":289,"y":264},{"b":31,"x":349,"y":225},{"b":31,"x":408,"y":185},
{"b":32,"x":0,"y":268},{"b":32,"x":60,"y":226},{"b":32,"x":120,"y":184},{"b":32,"x":150,"y":183},{"b":32,"x":181,"y":184},{"b":32,"x":235,"y":185},{"b":32,"x":289,"y":186},{"b":32,"x":349,"y":185},{"b":32,"x":408,"y":185},
{"b":33,"x":0,"y":394},{"b":33,"x":60,"y":398},{"b":33,"x":120,"y":401},{"b":33,"x":150,"y":404},{"b":33,"x":181,"y":407},{"b":33,"x":235,"y":405},{"b":33,"x":289,"y":403},{"b":33,"x":349,"y":401},{"b":33,"x":408,"y":399},
{"b":34,"x":0,"y":415},{"b":34,"x":60,"y":418},{"b":34,"x":120,"y":422},{"b":34,"x":150,"y":424},{"b":34,"x":181,"y":424},{"b":34,"x":235,"y":420},{"b":34,"x":289,"y":418},{"b":34,"x":349,"y":414},{"b":34,"x":408,"y":409},
{"b":35,"x":0,"y":409},{"b":35,"x":60,"y":407},{"b":35,"x":120,"y":405},{"b":35,"x":150,"y":398},{"b":35,"x":181,"y":393},{"b":35,"x":235,"y":395},{"b":35,"x":289,"y":398},{"b":35,"x":349,"y":402},{"b":35,"x":408,"y":405},
{"b":36,"x":0,"y":186},{"b":36,"x":60,"y":185},{"b":36,"x":120,"y":184},{"b":36,"x":150,"y":187},{"b":36,"x":181,"y":190},{"b":36,"x":235,"y":188},{"b":36,"x":289,"y":186},{"b":36,"x":349,"y":185},{"b":36,"x":408,"y":184},
{"b":37,"x":0,"y":183},{"b":37,"x":60,"y":182},{"b":37,"x":120,"y":181},{"b":37,"x":150,"y":182},{"b":37,"x":181,"y":184},{"b":37,"x":235,"y":183},{"b":37,"x":289,"y":183},{"b":37,"x":349,"y":182},{"b":37,"x":408,"y":182},
{"b":38,"x":0,"y":180},{"b":38,"x":60,"y":179},{"b":38,"x":120,"y":178},{"b":38,"x":150,"y":178},{"b":38,"x":181,"y":179},{"b":38,"x":235,"y":180},{"b":38,"x":289,"y":181},{"b":38,"x":349,"y":180},{"b":38,"x":408,"y":180},
{"b":39,"x":0,"y":177},{"b":39,"x":60,"y":177},{"b":39,"x":120,"y":176},{"b":39,"x":150,"y":176},{"b":39,"x":181,"y":177},{"b":39,"x":235,"y":178},{"b":39,"x":289,"y":178},{"b":39,"x":349,"y":178},{"b":39,"x":408,"y":178},
{"b":40,"x":0,"y":175},{"b":40,"x":60,"y":174},{"b":40,"x":120,"y":174},{"b":40,"x":150,"y":175},{"b":40,"x":181,"y":175},{"b":40,"x":235,"y":176},{"b":40,"x":289,"y":176},{"b":40,"x":349,"y":176},{"b":40,"x":408,"y":176},
{"b":41,"x":0,"y":173},{"b":41,"x":60,"y":172},{"b":41,"x":120,"y":172},{"b":41,"x":150,"y":173},{"b":41,"x":181,"y":172},{"b":41,"x":235,"y":173},{"b":41,"x":289,"y":174},{"b":41,"x":349,"y":174},{"b":41,"x":408,"y":174},
{"b":42,"x":0,"y":171},{"b":42,"x":60,"y":170},{"b":42,"x":120,"y":170},{"b":42,"x":150,"y":170},{"b":42,"x":181,"y":170},{"b":42,"x":235,"y":171},{"b":42,"x":289,"y":172},{"b":42,"x":349,"y":172},{"b":42,"x":408,"y":172},
{"b":43,"x":0,"y":169},{"b":43,"x":60,"y":168},{"b":43,"x":120,"y":168},{"b":43,"x":150,"y":167},{"b":43,"x":181,"y":168},{"b":43,"x":235,"y":169},{"b":43,"x":289,"y":170},{"b":43,"x":349,"y":170},{"b":43,"x":408,"y":170},
{"b":44,"x":0,"y":166},{"b":44,"x":60,"y":166},{"b":44,"x":120,"y":165},{"b":44,"x":150,"y":165},{"b":44,"x":181,"y":166},{"b":44,"x":235,"y":167},{"b":44,"x":289,"y":168},{"b":44,"x":349,"y":168},{"b":44,"x":408,"y":168},
{"b":45,"x":0,"y":164},{"b":45,"x":60,"y":164},{"b":45,"x":120,"y":163},{"b":45,"x":150,"y":163},{"b":45,"x":181,"y":164},{"b":45,"x":235,"y":165},{"b":45,"x":289,"y":166},{"b":45,"x":349,"y":166},{"b":45,"x":408,"y":166},
{"b":46,"x":0,"y":162},{"b":46,"x":60,"y":161},{"b":46,"x":120,"y":162},{"b":46,"x":150,"y":161},{"b":46,"x":181,"y":162},{"b":46,"x":235,"y":163},{"b":46,"x":289,"y":163},{"b":46,"x":349,"y":164},{"b":46,"x":408,"y":164},
{"b":47,"x":0,"y":160},{"b":47,"x":60,"y":159},{"b":47,"x":120,"y":160},{"b":47,"x":150,"y":159},{"b":47,"x":181,"y":160},{"b":47,"x":235,"y":161},{"b":47,"x":289,"y":162},{"b":47,"x":349,"y":162},{"b":47,"x":408,"y":162},
{"b":48,"x":0,"y":157},{"b":48,"x":60,"y":160},{"b":48,"x":120,"y":164},{"b":48,"x":150,"y":158},{"b":48,"x":181,"y":155},{"b":48,"x":235,"y":160},{"b":48,"x":289,"y":160},{"b":48,"x":349,"y":158},{"b":48,"x":408,"y":156},
{"b":49,"x":0,"y":150},{"b":49,"x":60,"y":155},{"b":49,"x":120,"y":160},{"b":49,"x":150,"y":153},{"b":49,"x":181,"y":148},{"b":49,"x":235,"y":155},{"b":49,"x":289,"y":160},{"b":49,"x":349,"y":150},{"b":49,"x":408,"y":144},
{"b":50,"x":0,"y":145},{"b":50,"x":60,"y":150},{"b":50,"x":120,"y":155},{"b":50,"x":150,"y":150},{"b":50,"x":181,"y":148},{"b":50,"x":235,"y":150},{"b":50,"x":289,"y":148},{"b":50,"x":349,"y":140},{"b":50,"x":408,"y":135},
{"b":51,"x":0,"y":140},{"b":51,"x":60,"y":146},{"b":51,"x":120,"y":150},{"b":51,"x":150,"y":148},{"b":51,"x":181,"y":145},{"b":51,"x":235,"y":141},{"b":51,"x":289,"y":138},{"b":51,"x":349,"y":135},{"b":51,"x":408,"y":132},
{"b":52,"x":0,"y":133},{"b":52,"x":60,"y":138},{"b":52,"x":120,"y":140},{"b":52,"x":150,"y":143},{"b":52,"x":181,"y":146},{"b":52,"x":235,"y":142},{"b":52,"x":289,"y":138},{"b":52,"x":349,"y":135},{"b":52,"x":408,"y":131},
{"b":53,"x":0,"y":128},{"b":53,"x":60,"y":135},{"b":53,"x":120,"y":140},{"b":53,"x":150,"y":145},{"b":53,"x":181,"y":148},{"b":53,"x":235,"y":145},{"b":53,"x":289,"y":142},{"b":53,"x":349,"y":138},{"b":53,"x":408,"y":135},
{"b":54,"x":0,"y":118},{"b":54,"x":60,"y":108},{"b":54,"x":120,"y":99},{"b":54,"x":150,"y":102},{"b":54,"x":181,"y":105},{"b":54,"x":235,"y":112},{"b":54,"x":289,"y":118},{"b":54,"x":349,"y":108},{"b":54,"x":408,"y":96},
{"b":55,"x":0,"y":128},{"b":55,"x":60,"y":130},{"b":55,"x":120,"y":132},{"b":55,"x":150,"y":128},{"b":55,"x":181,"y":125},{"b":55,"x":235,"y":124},{"b":55,"x":289,"y":126},{"b":55,"x":349,"y":124},{"b":55,"x":408,"y":122},
{"b":56,"x":0,"y":0},{"b":56,"x":60,"y":55},{"b":56,"x":120,"y":90},{"b":56,"x":150,"y":93},{"b":56,"x":181,"y":88},{"b":56,"x":235,"y":50},{"b":56,"x":289,"y":0},{"b":56,"x":349,"y":50},{"b":56,"x":408,"y":80},
{"b":57,"x":0,"y":0},{"b":57,"x":60,"y":90},{"b":57,"x":120,"y":165},{"b":57,"x":150,"y":163},{"b":57,"x":181,"y":160},{"b":57,"x":235,"y":80},{"b":57,"x":289,"y":0},{"b":57,"x":349,"y":72},{"b":57,"x":408,"y":144},
{"b":58,"x":0,"y":186},{"b":58,"x":60,"y":175},{"b":58,"x":120,"y":162},{"b":58,"x":150,"y":150},{"b":58,"x":181,"y":140},{"b":58,"x":235,"y":145},{"b":58,"x":289,"y":150},{"b":58,"x":349,"y":160},{"b":58,"x":408,"y":170},
{"b":59,"x":0,"y":485},{"b":59,"x":60,"y":485},{"b":59,"x":120,"y":484},{"b":59,"x":150,"y":484},{"b":59,"x":181,"y":484},{"b":59,"x":235,"y":485},{"b":59,"x":289,"y":486},{"b":59,"x":349,"y":485},{"b":59,"x":408,"y":485},
{"b":60,"x":0,"y":481},{"b":60,"x":60,"y":481},{"b":60,"x":120,"y":480},{"b":60,"x":150,"y":481},{"b":60,"x":181,"y":481},{"b":60,"x":235,"y":481},{"b":60,"x":289,"y":482},{"b":60,"x":349,"y":481},{"b":60,"x":408,"y":480},
{"b":61,"x":0,"y":477},{"b":61,"x":60,"y":477},{"b":61,"x":120,"y":476},{"b":61,"x":150,"y":477},{"b":61,"x":181,"y":477},{"b":61,"x":235,"y":477},{"b":61,"x":289,"y":476},{"b":61,"x":349,"y":477},{"b":61,"x":408,"y":477},
{"b":62,"x":0,"y":466},{"b":62,"x":60,"y":466},{"b":62,"x":120,"y":466},{"b":62,"x":150,"y":465},{"b":62,"x":181,"y":465},{"b":62,"x":235,"y":466},{"b":62,"x":289,"y":467},{"b":62,"x":349,"y":466},{"b":62,"x":408,"y":466},
{"b":63,"x":0,"y":462},{"b":63,"x":60,"y":462},{"b":63,"x":120,"y":463},{"b":63,"x":150,"y":462},{"b":63,"x":181,"y":462},{"b":63,"x":235,"y":462},{"b":63,"x":289,"y":463},{"b":63,"x":349,"y":462},{"b":63,"x":408,"y":462},
{"b":64,"x":0,"y":458},{"b":64,"x":60,"y":458},{"b":64,"x":120,"y":459},{"b":64,"x":150,"y":458},{"b":64,"x":181,"y":458},{"b":64,"x":235,"y":457},{"b":64,"x":289,"y":456},{"b":64,"x":349,"y":457},{"b":64,"x":408,"y":458},
{"b":65,"x":0,"y":179},{"b":65,"x":60,"y":178},{"b":65,"x":120,"y":177},{"b":65,"x":150,"y":177},{"b":65,"x":181,"y":178},{"b":65,"x":235,"y":179},{"b":65,"x":289,"y":180},{"b":65,"x":349,"y":179},{"b":65,"x":408,"y":179},
{"b":66,"x":0,"y":176},{"b":66,"x":60,"y":175},{"b":66,"x":120,"y":175},{"b":66,"x":150,"y":176},{"b":66,"x":181,"y":176},{"b":66,"x":235,"y":177},{"b":66,"x":289,"y":177},{"b":66,"x":349,"y":177},{"b":66,"x":408,"y":177},
{"b":67,"x":0,"y":172},{"b":67,"x":60,"y":171},{"b":67,"x":120,"y":171},{"b":67,"x":150,"y":171},{"b":67,"x":181,"y":171},{"b":67,"x":235,"y":172},{"b":67,"x":289,"y":173},{"b":67,"x":349,"y":173},{"b":67,"x":408,"y":173},
{"b":68,"x":0,"y":168},{"b":68,"x":60,"y":167},{"b":68,"x":120,"y":166},{"b":68,"x":150,"y":166},{"b":68,"x":181,"y":167},{"b":68,"x":235,"y":168},{"b":68,"x":289,"y":169},{"b":68,"x":349,"y":169},{"b":68,"x":408,"y":169},
{"b":69,"x":0,"y":165},{"b":69,"x":60,"y":165},{"b":69,"x":120,"y":164},{"b":69,"x":150,"y":164},{"b":69,"x":181,"y":165},{"b":69,"x":235,"y":166},{"b":69,"x":289,"y":167},{"b":69,"x":349,"y":167},{"b":69,"x":408,"y":167},
{"b":70,"x":0,"y":181},{"b":70,"x":60,"y":183},{"b":70,"x":120,"y":186},{"b":70,"x":150,"y":184},{"b":70,"x":181,"y":182},{"b":70,"x":235,"y":182},{"b":70,"x":289,"y":184},{"b":70,"x":349,"y":183},{"b":70,"x":408,"y":181}
]
},
"hconcat": [
{
"width": 275, "height": 429,
"title": {"text": "(a) Folded d-Si Dispersion"},
"encoding": {
"x": {"field": "x", "type": "quantitative", "scale": {"domain": [0, 275], "nice": false},
"axis": {"values": [0, 80, 121, 194, 275], "labelExpr": "datum.value == 0 ? 'Γ' : datum.value == 80 ? 'X' : datum.value == 121 ? 'K' : datum.value == 194 ? 'Γ' : 'L'", "ticks": false, "grid": false, "title": null, "labelFont": "Liberation Serif", "labelFontSize": 19, "labelColor": "black", "labelPadding": 13, "labelFlush": false, "labelOverlap": false, "domainColor": "black"}}
},
"layer": [
{"data": {"name": "a"},
"transform": [{"filter": {"not": {"field": "b", "oneOf": [25, 26, 28, 29, 32, 33, 64, 65, 66, 67]}}}],
"mark": {"type": "line", "interpolate": "monotone", "color": "black", "strokeWidth": 1.4},
"encoding": {
"y": {"field": "y", "type": "quantitative", "scale": {"domain": [0, 550], "nice": false},
"axis": {"values": [0, 50, 100, 150, 200, 250, 300, 350, 400, 450, 500], "labelExpr": "datum.value % 100 == 0 ? datum.label : ''", "tickSize": -6, "tickColor": "black", "labelPadding": 18, "labelFontSize": 18, "labelColor": "black", "grid": false, "domainColor": "black", "title": "Phonon Frequency: ω (cm⁻¹)", "titleFontSize": 23, "titleFontWeight": "normal", "titleColor": "black", "titlePadding": 11}},
"detail": {"field": "b", "type": "nominal"}
}},
{"data": {"name": "a"},
"transform": [{"filter": {"field": "b", "oneOf": [25, 26, 28, 29, 32, 33, 64, 65, 66, 67]}}],
"mark": {"type": "line", "interpolate": "linear", "color": "black", "strokeWidth": 1.4},
"encoding": {
"y": {"field": "y", "type": "quantitative"},
"detail": {"field": "b", "type": "nominal"}
}},
{"data": {"values": [{"x": 80}, {"x": 121}, {"x": 194}]},
"mark": {"type": "rule", "color": "black", "strokeWidth": 1.4, "strokeDash": [8, 6]},
"encoding": {"x": {"field": "x", "type": "quantitative"}}}
]
},
{
"width": 408, "height": 429,
"title": {"text": "(b) Si₁₃₆ Dispersion"},
"encoding": {
"x": {"field": "x", "type": "quantitative", "scale": {"domain": [0, 408], "nice": false},
"axis": {"values": [0, 120, 181, 289, 408], "labelExpr": "datum.value == 0 ? 'Γ' : datum.value == 120 ? 'X' : datum.value == 181 ? 'K' : datum.value == 289 ? 'Γ' : 'L'", "ticks": false, "grid": false, "title": null, "labelFont": "Liberation Serif", "labelFontSize": 19, "labelColor": "black", "labelPadding": 13, "labelFlush": false, "labelOverlap": false, "domainColor": "black"}}
},
"layer": [
{"data": {"name": "b"},
"transform": [{"filter": {"not": {"field": "b", "oneOf": [31, 32, 56, 57]}}}],
"mark": {"type": "line", "interpolate": "monotone", "color": "black", "strokeWidth": 1.4},
"encoding": {
"y": {"field": "y", "type": "quantitative", "scale": {"domain": [0, 550], "nice": false},
"axis": {"values": [0, 50, 100, 150, 200, 250, 300, 350, 400, 450, 500], "labels": false, "tickSize": -6, "tickColor": "black", "grid": false, "domainColor": "black", "title": null}},
"detail": {"field": "b", "type": "nominal"}
}},
{"data": {"name": "b"},
"transform": [{"filter": {"field": "b", "oneOf": [31, 32, 56, 57]}}],
"mark": {"type": "line", "interpolate": "linear", "color": "black", "strokeWidth": 1.4},
"encoding": {
"y": {"field": "y", "type": "quantitative"},
"detail": {"field": "b", "type": "nominal"}
}},
{"data": {"values": [{"x": 120}, {"x": 181}, {"x": 289}]},
"mark": {"type": "rule", "color": "black", "strokeWidth": 1.4, "strokeDash": [8, 6]},
"encoding": {"x": {"field": "x", "type": "quantitative"}}}
]
}
]
}
